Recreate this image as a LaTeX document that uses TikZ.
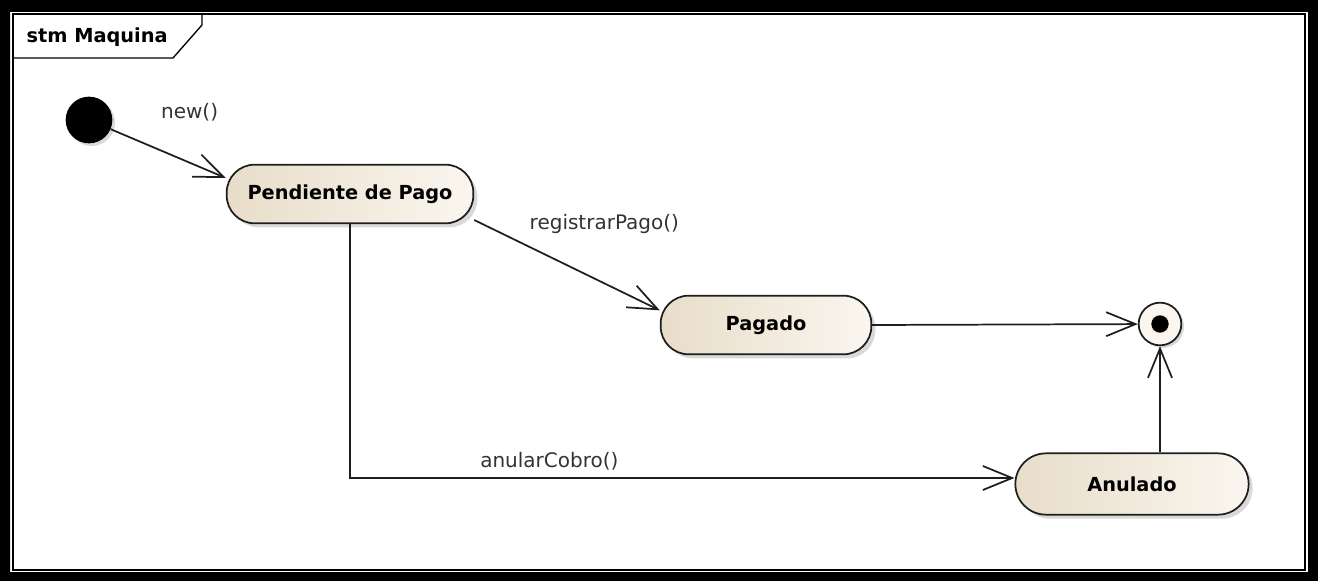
\documentclass[tikz,border=0pt]{standalone}
\usepackage{fontspec}
\setmainfont{DejaVu Sans}
\usetikzlibrary{arrows.meta,shadows}
\definecolor{stateleft}{RGB}{232,221,201}
\definecolor{stateright}{RGB}{250,246,239}
\definecolor{lineclr}{RGB}{30,30,30}
\begin{document}
\begin{tikzpicture}[
  x=0.75pt, y=-0.75pt,
  every node/.style={font=\fontsize{15}{18}\selectfont},
  state/.style={draw=lineclr, line width=1.3pt, rounded corners=21pt,
    left color=stateleft, right color=stateright, minimum height=44pt,
    font=\fontsize{14.5}{17}\selectfont\bfseries,
    drop shadow={shadow xshift=3pt, shadow yshift=-3pt, opacity=.3}},
  pseudo/.style={circle, inner sep=0pt},
  trans/.style={draw=lineclr, line width=1.3pt,
    -{Straight Barb[length=22pt, width=18pt]}},
  lbl/.style={inner sep=1pt, text=black!80}
]
\useasboundingbox (0,0) rectangle (1318,581);
\fill[black, even odd rule] (0,0) rectangle (1318,581) (10,12) rectangle (1308,572);
\draw[line width=1pt] (13,14) rectangle (1305,570);
\draw[line width=1pt] (13,58) -- (173,58) -- (202,25) -- (202,14);
\node[anchor=west, font=\fontsize{14.5}{17}\selectfont\bfseries] (title) at (22,37) {stm Maquina};

\node[pseudo, fill=black, minimum size=35pt,
  drop shadow={shadow xshift=2pt, shadow yshift=-2pt, opacity=.3}] (init) at (89,120) {};
\node[state, minimum width=185pt] (pend) at (350,194) {Pendiente de Pago};
\node[state, minimum width=158pt] (pag) at (766,325) {Pagado};
\node[state, minimum width=175pt, minimum height=46pt, rounded corners=23pt] (anu) at (1132,484) {Anulado};
\node[pseudo, draw=lineclr, line width=1.3pt, fill=stateright, minimum size=32pt,
  drop shadow={shadow xshift=2pt, shadow yshift=-2pt, opacity=.3}] (fin) at (1160,324) {};
\node[pseudo, fill=black, minimum size=13pt] (findot) at (fin) {};

\draw[trans] (init) -- ([yshift=12pt]pend.west)
  node[lbl, midway, xshift=16pt, yshift=31pt] {new()};
\draw[trans] ([yshift=-19.5pt]pend.east) -- ([yshift=11pt]pag.west)
  node[lbl, midway, xshift=28pt, yshift=31pt] {registrarPago()};
\draw[trans] (pag.east) -- (fin);
\draw[trans] (pend.south) |- ([yshift=4.5pt]anu.west)
  node[lbl, pos=0.65, above=4pt] {anularCobro()};
\draw[trans] (anu.north -| fin) -- (fin);
\end{tikzpicture}
\end{document}
